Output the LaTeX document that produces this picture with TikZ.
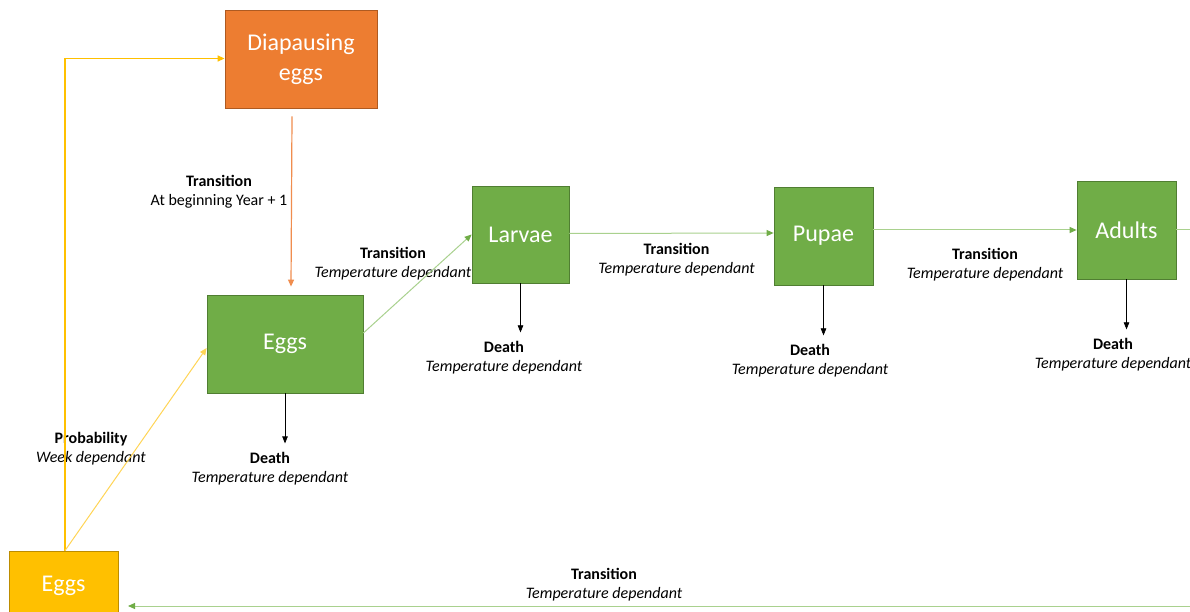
\documentclass[tikz,border=0pt]{standalone}
\usepackage{fontspec}
\setmainfont{Carlito}
\usetikzlibrary{arrows.meta,calc}
\definecolor{orfill}{HTML}{ED7D31}
\definecolor{ordraw}{HTML}{AE5A21}
\definecolor{grfill}{HTML}{70AD47}
\definecolor{grdraw}{HTML}{507E32}
\definecolor{yefill}{HTML}{FFC000}
\definecolor{yedraw}{HTML}{BC8C00}
\definecolor{yeline}{HTML}{FFC000}
\definecolor{yelight}{HTML}{FFD556}
\definecolor{orline}{HTML}{F08D4E}
\definecolor{grline}{HTML}{A9D18E}
\definecolor{grtip}{HTML}{70AD47}
\begin{document}
\begin{tikzpicture}[x=1pt,y=-1pt,
  box/.style={rectangle, inner sep=0pt, text=white, align=center,
    font=\fontsize{24}{30}\selectfont, line width=0.8pt},
  gbox/.style={box, fill=grfill, draw=grdraw},
  lab/.style={align=center, inner sep=1pt, font=\fontsize{16}{19}\selectfont},
  tipg/.style={-{Triangle[length=7pt,width=6pt,color=grtip]}},
  gline/.style={tipg, draw=grline, line width=1pt},
  deatharrow/.style={-{Triangle[length=7pt,width=5.5pt]}, draw=black, line width=0.7pt, shorten >=8pt},
]
\useasboundingbox (0,0) rectangle (1190,612);
\clip (0,0) rectangle (1190,612);
\fill[white] (0,0) rectangle (1190,612);

% nodes
\node[box, fill=orfill, draw=ordraw, minimum width=152pt, minimum height=98pt] (diap) at (301,59) {Diapausing\\eggs};
\node[gbox, minimum width=156pt, minimum height=98pt] (eggs) at (285,344) {Eggs};
\node[gbox, minimum width=97pt, minimum height=97pt] (larvae) at (520.5,234.5) {Larvae};
\node[gbox, minimum width=99pt, minimum height=98pt] (pupae) at (823.5,236) {Pupae};
\node[gbox, minimum width=99pt, minimum height=98pt] (adults) at (1126.5,230) {Adults};
\node[box, fill=yefill, draw=yedraw, minimum width=109pt, minimum height=80pt] (yeggs) at (63.5,591) {};
\node[box] (yeggstext) at (63.5,586) {Eggs};

% labels
\node[lab] (t1) at (219,192) {\textbf{Transition}\\At beginning Year + 1};
\node[lab] (t2) at (393,264) {\textbf{Transition}\\\textit{Temperature dependant}};
\node[lab] (t3) at (676.5,260) {\textbf{Transition}\\\textit{Temperature dependant}};
\node[lab] (t4) at (985,265) {\textbf{Transition}\\\textit{Temperature dependant}};
\node[lab] (t5) at (604,585) {\textbf{Transition}\\\textit{Temperature dependant}};
\node[lab] (pr) at (91,449) {\textbf{Probability}\\\textit{Week dependant}};
\node[lab] (d1) at (270,469) {\textbf{Death}\\\textit{Temperature dependant}};
\node[lab] (d2) at (504,358) {\textbf{Death}\\\textit{Temperature dependant}};
\node[lab] (d3) at (810,361) {\textbf{Death}\\\textit{Temperature dependant}};
\node[lab] (d4) at (1113,355) {\textbf{Death}\\\textit{Temperature dependant}};

% free ends
\coordinate (rout) at (1195,230);
\coordinate (bin) at (1195,606);
\coordinate (bend) at (128,606);

% connectors (yshift is in canvas units: positive = up)
\draw[-{Triangle[length=7pt,width=6pt]}, draw=yeline, line width=1.4pt] ([xshift=1.5pt]yeggs.north) |- ([yshift=0.5pt]diap.west);
\draw[-{Triangle[length=7pt,width=6pt]}, draw=yelight, line width=1pt] ([xshift=1.5pt]yeggs.north) -- ([yshift=-4pt]eggs.west);
\draw[-{Triangle[length=7pt,width=6pt]}, draw=orline, line width=1.2pt] ([xshift=-9pt,yshift=-8pt]diap.south) -- ([xshift=6pt,yshift=8pt]eggs.north);
\draw[gline] ([yshift=11pt]eggs.east) -- (larvae.west);
\draw[gline] ([yshift=1pt]larvae.east) -- ([yshift=3pt]pupae.west);
\draw[gline] (pupae.east |- adults.west) -- (adults.west);
\draw[draw=grline, line width=1pt] (adults.east) -- (rout);
\draw[gline] (bin) -- (bend);

\draw[deatharrow] (eggs.south) -- (eggs.south |- d1.north);
\draw[deatharrow] (larvae.south) -- (larvae.south |- d2.north);
\draw[deatharrow] (pupae.south) -- (pupae.south |- d3.north);
\draw[deatharrow] (adults.south) -- (adults.south |- d4.north);
\end{tikzpicture}
\end{document}
